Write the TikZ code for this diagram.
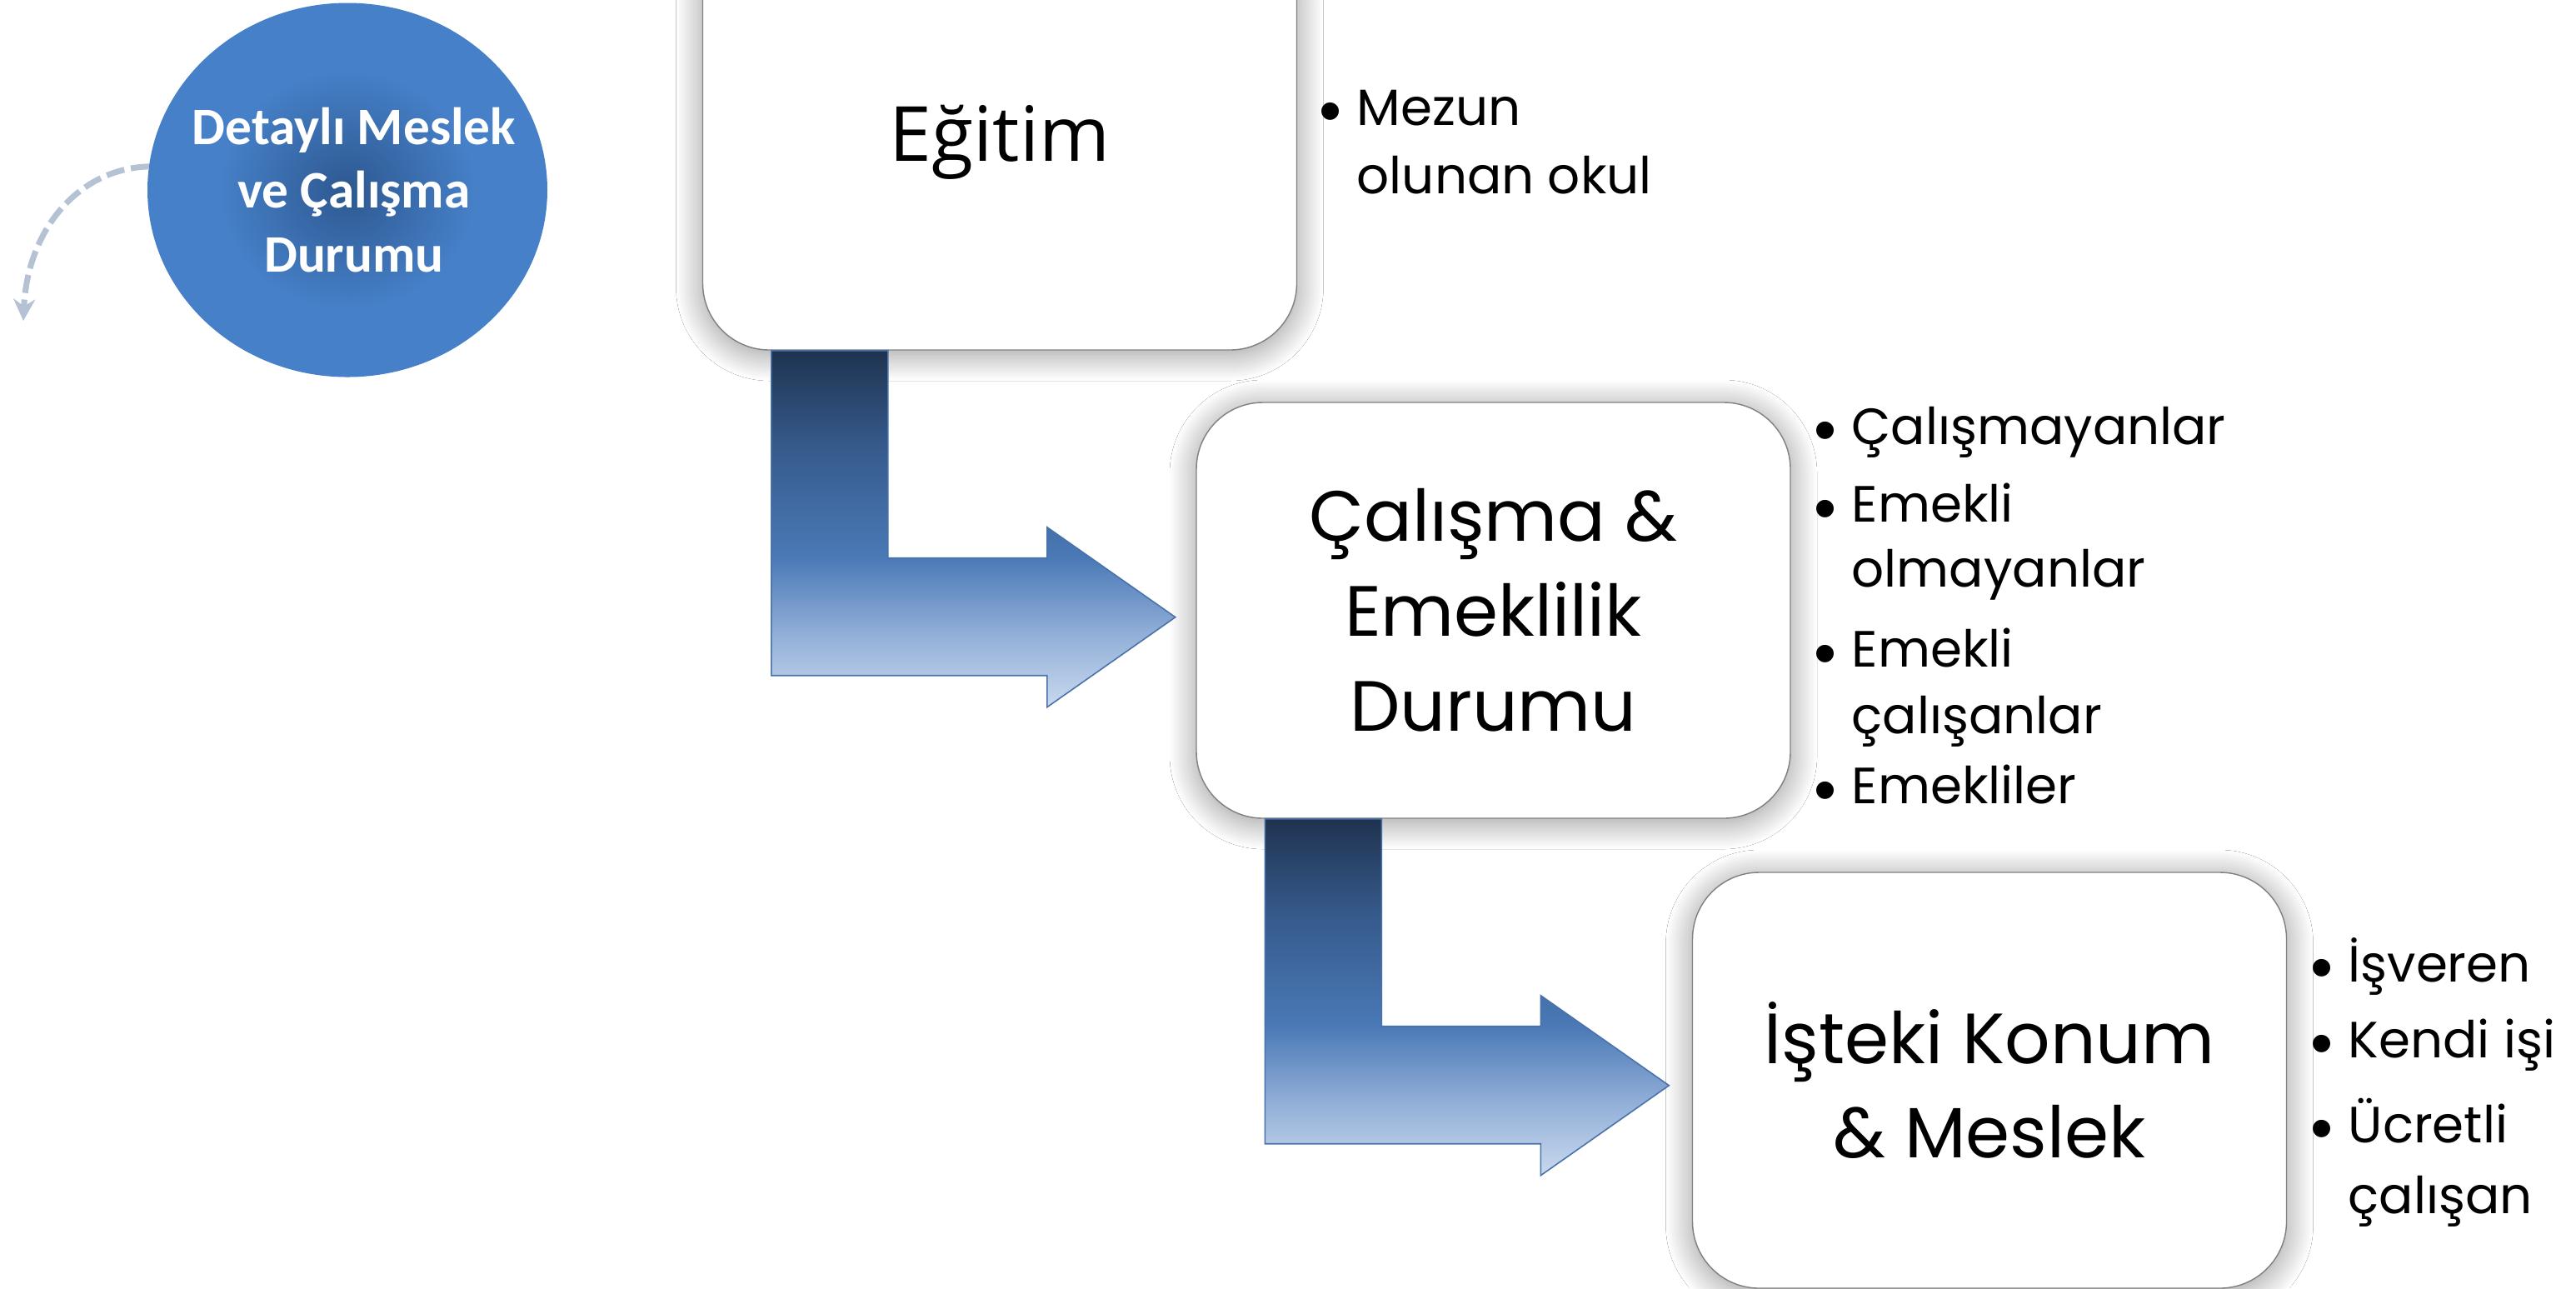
\documentclass[tikz,border=0pt]{standalone}
\usepackage{fontspec}
\setmainfont{Poppins}
\newfontfamily\circfont{Carlito}
\newfontfamily\edufont{Open Sans}
\newfontfamily\bulfont{Liberation Sans}
\usetikzlibrary{calc,shapes.geometric,shadows.blur,arrows.meta}
\definecolor{circdark}{HTML}{2D5890}
\definecolor{circlight}{HTML}{4680C8}
\definecolor{arrdark}{HTML}{1F3350}
\definecolor{arrup}{HTML}{35598A}
\definecolor{arrmid}{HTML}{4A79B6}
\definecolor{arrlow}{HTML}{93B0D8}
\definecolor{arrlight}{HTML}{C9D9EE}
\definecolor{arredge}{HTML}{4A72AA}
\definecolor{dashcol}{HTML}{B4C2D4}
\definecolor{boxedge}{HTML}{808080}
\pgfdeclareradialshading{circshade}{\pgfpoint{0bp}{0bp}}{color(0bp)=(circdark); color(16bp)=(circlight); color(25bp)=(circlight); color(50bp)=(circlight)}
\pgfdeclareverticalshading{arrowshade}{100bp}{color(0bp)=(arrlight); color(25bp)=(arrlight); color(35bp)=(arrlow); color(46bp)=(arrmid); color(62bp)=(arrup); color(75bp)=(arrdark); color(100bp)=(arrdark)}
\tikzset{
  stagebox/.style={draw=boxedge, line width=0.4pt, fill=white, rounded corners=0.8cm,
    minimum width=7.13cm, minimum height=4.99cm, inner sep=0pt, align=center,
    font=\fontsize{24.3}{32.4}\selectfont,
    blur shadow={shadow xshift=0cm, shadow yshift=-0.05cm, shadow blur radius=0.32cm,
      shadow blur steps=30, shadow opacity=42}},
  bentarrow/.style={shading=arrowshade, draw=arredge, line width=0.45pt, line join=miter},
  listtext/.style={inner sep=0pt, anchor=base west, font=\fontsize{17.4}{22.2}\selectfont},
  dasharrow/.style={draw=dashcol, line width=2pt, dash pattern=on 0.22cm off 0.08cm,
    -{Stealth[length=0.26cm, width=0.26cm]}},
  circtext/.style={inner sep=0pt, align=center, text=white,
    font=\circfont\bfseries\fontsize{18}{21.9}\selectfont}
}
\newcommand{\bul}{\makebox[0.45cm][l]{\raisebox{-0.95mm}{\bulfont\fontsize{22}{22}\selectfont •}}}
\begin{document}
\begin{tikzpicture}
\useasboundingbox (0,0) rectangle (30.92,-15.46);
\fill[white] (0,0) rectangle (30.92,-15.46);

% circle and dashed arrow
\path[shading=circshade] (4.17,-2.28) ellipse [x radius=2.40, y radius=2.245];
\node[circtext] (c) at (4.25,-2.28) {Detaylı Meslek\\ve Çalışma\\Durumu};
\coordinate (dstart) at ($(4.17,-2.28)+(172.8:2.40 and 2.245)$);
\coordinate (dtip) at (0.28,-3.85);
\draw[dasharrow] (dstart) .. controls (0.95,-2.02) and (0.33,-2.75) .. (dtip);

% stage boxes
\node[stagebox, font=\edufont\fontsize{26}{32.4}\selectfont] (e1) at (12.00,-1.705) {Eğitim};
\node[stagebox] (e2) at (17.925,-7.325) {Çalışma \&\\Emeklilik\\Durumu};
\node[stagebox] (e3) at (23.88,-12.965) {İşteki Konum\\\& Meslek};

% bent arrows
\path[bentarrow] ($(e1.south west)+(0.83,0)$) -- ++(1.40,0) -- ++(0,-2.49) -- ++(1.91,0)
  -- ++(0,0.37) -- ++(1.54,-1.08) coordinate (t1) -- ++(-1.54,-1.08) -- ++(0,0.38) -- ++(-3.31,0) -- cycle;
\path[bentarrow] ($(e2.south west)+(0.83,0)$) -- ++(1.40,0) -- ++(0,-2.49) -- ++(1.91,0)
  -- ++(0,0.37) -- ++(1.54,-1.08) coordinate (t2) -- ++(-1.54,-1.08) -- ++(0,0.38) -- ++(-3.31,0) -- cycle;

% bullet lists
\node[listtext] (l1) at (15.83,-1.50) {\begin{tabular}[t]{@{}l@{}l@{}}
\bul & Mezun\\[1.4pt] & olunan okul\end{tabular}};
\node[listtext] (l2) at (21.77,-5.33) {\begin{tabular}[t]{@{}l@{}l@{}}
\bul & Çalışmayanlar\\[4.5pt]
\bul & Emekli\\ & olmayanlar\\[5.1pt]
\bul & Emekli\\[0.6pt] & çalışanlar\\[1.7pt]
\bul & Emekliler\end{tabular}};
\node[listtext] (l3) at (27.73,-11.78) {\begin{tabular}[t]{@{}l@{}l@{}}
\bul & İşveren\\[3.8pt]
\bul & Kendi işi\\[6.8pt]
\bul & Ücretli\\[2.0pt] & çalışan\end{tabular}};
\end{tikzpicture}
\end{document}
